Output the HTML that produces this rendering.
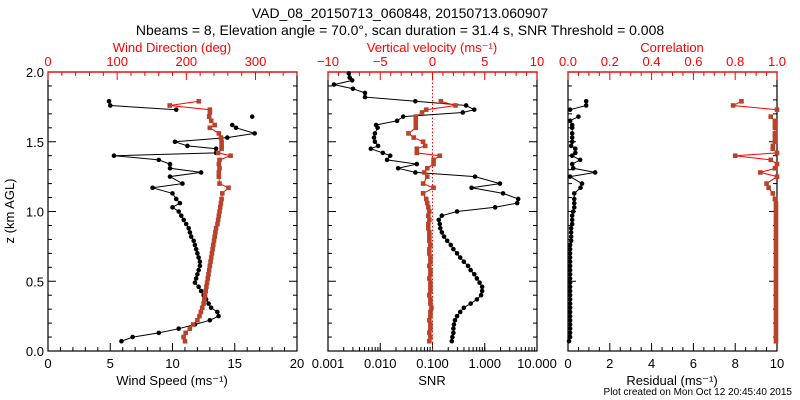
<!DOCTYPE html>
<html><head><meta charset="utf-8"><style>
html,body{margin:0;padding:0;background:#fff;}
svg{display:block;font-family:"Liberation Sans","DejaVu Sans",sans-serif;}
</style></head><body>
<svg id="chart" width="800" height="400" viewBox="0 0 800 400" xmlns="http://www.w3.org/2000/svg">
<text x="400" y="18" font-size="14" text-anchor="middle">VAD_08_20150713_060848, 20150713.060907</text>
<text x="400" y="35" font-size="14" text-anchor="middle">Nbeams = 8, Elevation angle = 70.0°, scan duration = 31.4 s, SNR Threshold = 0.008</text>
<text x="14" y="211" font-size="13" text-anchor="middle" transform="rotate(-90 14 211)">z (km AGL)</text>
<text x="792" y="395" font-size="10" text-anchor="end">Plot created on Mon Oct 12 20:45:40 2015</text>
<g id="g"></g>
</svg>
<script>
const zLevels=[0.07,0.10,0.13,0.16,0.19,0.22,0.25,0.28,0.31,0.34,0.37,0.40,0.43,0.46,0.49,0.52,0.55,0.58,0.61,0.64,0.67,0.70,0.73,0.76,0.79,0.82,0.85,0.88,0.91,0.94,0.97,1.00,1.03,1.06,
1.09,1.13,1.17,1.20,1.25,1.28,1.31,1.34,1.37,1.40,1.42,1.45,1.47,1.50,1.53,1.56,1.60,1.62,1.65,1.68,1.71,1.73,1.76,1.79,1.82,1.85,1.88,1.91,1.94,1.96,1.99];
const windSpeed=[5.9,6.8,8.9,10.5,11.8,13.0,13.7,13.6,13.1,12.9,12.7,12.5,12.3,12.1,11.8,11.9,12.0,12.1,12.2,12.2,12.1,12.0,11.9,11.8,11.7,11.5,11.4,11.3,11.1,10.9,10.7,10.5,10.0,10.6,
10.3,10.0,8.4,10.8,9.8,12.3,9.8,9.8,8.9,5.3,13.5,13.5,11.2,10.2,14.4,16.6,15.1,14.8,null,16.4,null,10.3,5.0,4.9,null,null,null,null,null,null,null];
const windDir=[198,196,199,205,210,216,219,221,223,225,226,227,228,229,230,231,232,233,234,235,236,237,238,239,240,241,242,243,245,246,247,248,249,250,
251,252,261,248,247,247,248,247,248,264,246,251,251,251,250,247,234,241,236,233,234,234,176,218,null,null,null,null,null,null,null];
const vertVel=[-0.3,-0.2,-0.3,-0.2,-0.2,-0.3,-0.2,-0.2,-0.1,-0.2,-0.2,-0.3,-0.2,-0.2,-0.2,-0.3,-0.2,-0.2,-0.3,-0.2,-0.2,-0.3,-0.3,-0.2,-0.3,-0.3,-0.3,-0.4,-0.4,-0.3,-0.4,-0.3,-0.4,-0.5,
-0.6,-0.9,0.1,-0.9,-0.5,-0.8,-0.5,0.1,0.1,0.7,-1.5,-1.5,-0.7,-0.9,-1.8,-2.3,-1.6,-1.6,-1.6,-1.6,-1.0,-0.6,2.2,0.8,null,null,null,null,null,null,null];
const snr=[0.234,0.24,0.251,0.251,0.257,0.269,0.295,0.339,0.398,0.537,0.708,0.851,0.891,0.891,0.794,0.708,0.631,0.537,0.479,0.398,0.339,0.295,0.251,0.224,0.191,0.166,0.151,0.141,0.138,0.132,0.151,0.295,1.58,4.17,
4.37,2.24,0.56,1.95,0.65,0.047,0.022,0.05,0.0135,0.0155,0.0112,0.0066,0.0091,0.0079,0.0076,0.0079,0.0089,0.0083,0.021,0.0275,0.38,0.63,0.44,0.047,0.0051,0.0051,0.003,0.0013,0.0029,0.0026,0.0025];
const residual=[0.05,0.1,0.1,0.1,0.1,0.1,0.1,0.1,0.1,0.1,0.1,0.1,0.1,0.1,0.1,0.1,0.1,0.1,0.1,0.1,0.1,0.1,0.1,0.1,0.15,0.15,0.15,0.15,0.2,0.2,0.2,0.25,0.3,0.3,
0.3,0.3,0.6,0.67,0.1,1.3,0.25,0.2,0.58,0.2,0.35,0.35,0.15,0.2,0.2,0.2,0.2,0.2,0.1,0.5,null,0.1,0.87,0.87,null,null,null,null,null,null,null];
const correlation=[0.995,0.995,0.995,0.995,0.995,0.995,0.995,0.995,0.995,0.995,0.995,0.995,0.995,0.995,0.995,0.995,0.995,0.995,0.995,0.995,0.995,0.995,0.995,0.995,0.995,0.995,0.995,0.995,0.995,0.995,0.995,0.995,0.995,0.995,
0.99,0.98,0.96,0.95,1.0,0.92,0.99,1.0,0.97,0.80,1.0,0.98,0.98,0.99,0.99,0.99,0.99,0.99,0.99,0.97,null,1.0,0.79,0.83,null,null,null,null,null,null,null];
const wsTicks=["0","5","10","15","20"], wdTicks=["0","100","200","300"], wTicks=["−10","−5","0","5","10"];
const snrTicks=["0.001","0.010","0.100","1.000","10.000"], corrTicks=["0.0","0.2","0.4","0.6","0.8","1.0"], resTicks=["0","2","4","6","8","10"];
const zTicks=["0.0","0.5","1.0","1.5","2.0"];

const NS="http://www.w3.org/2000/svg", G=document.getElementById('g');
const Y0=351,Y1=72; const yS=z=>Y0-(Y0-Y1)*z/2;
const RED="#ff0000", BR="#b8432a";
function el(t,a,p){const e=document.createElementNS(NS,t);for(const k in a)e.setAttribute(k,a[k]);(p||G).appendChild(e);return e;}
function txt(s,x,y,o){const e=el('text',Object.assign({x:x,y:y,'font-size':13,'text-anchor':'middle'},o||{}));e.textContent=s;return e;}
const panels=[{x0:48,x1:297},{x0:328,x1:537},{x0:568,x1:777}];
function frame(p,name){const r=el('rect',{x:p.x0,y:Y1,width:p.x1-p.x0,height:Y0-Y1,fill:'none',stroke:'#000','stroke-width':1.2});

// z ticks
for(let i=0;i<=20;i++){const y=yS(i*0.1),L=i%5==0?8:4;
el('line',{x1:p.x0,x2:p.x0+L,y1:y,y2:y,stroke:'#000'});el('line',{x1:p.x1,x2:p.x1-L,y1:y,y2:y,stroke:'#000'});}
}
function linTicks(p,min,max,minor,major,labels,top,color,nameTick){
const sx=v=>p.x0+(p.x1-p.x0)*(v-min)/(max-min);
for(let v=min;v<=max+1e-9;v+=minor){const isM=Math.abs(Math.round((v-min)/major)*major-(v-min))<1e-6;const L=isM?8:4;const x=sx(v);
if(top)el('line',{x1:x,x2:x,y1:Y1,y2:Y1+L,stroke:color});else el('line',{x1:x,x2:x,y1:Y0,y2:Y0-L,stroke:color});}
labels.forEach((s,i)=>{const v=min+i*major;if(v>max+1e-9)return;const t=txt(s,sx(v),top?Y1-6:Y0+17,{fill:color});
});
if(top)el('line',{x1:p.x0,x2:p.x1,y1:Y1,y2:Y1,stroke:color,'stroke-width':1.2});
return sx;}
function series(pts,color,mcolor,shape,name){
let d='',pen=false;pts.forEach(q=>{if(q==null){pen=false;return;}d+=(pen?'L':'M')+q[0].toFixed(1)+','+q[1].toFixed(1);pen=true;});
const path=el('path',{d:d,fill:'none',stroke:color,'stroke-width':1});

pts.forEach(q=>{if(!q)return;let m;if(shape=='c')m=el('circle',{cx:q[0],cy:q[1],r:2.3,fill:mcolor});
else m=el('rect',{x:q[0]-2.3,y:q[1]-2.3,width:4.6,height:4.6,fill:mcolor});
});}
function pts(vals,sx){return vals.map((v,i)=>v==null?null:[sx(v),yS(zLevels[i])]);}

// Panel 1
const p1=panels[0];frame(p1,'wind-panel');
zTicks.forEach((s,i)=>{const t=txt(s,p1.x0-4,yS(i*0.5)+5,{'text-anchor':'end'});});
const sWS=linTicks(p1,0,20,1,5,wsTicks,false,'#000','wind-speed-tick-label');
const sWD=linTicks(p1,0,360,20,100,wdTicks,true,RED,'wind-direction-tick-label');
txt('Wind Speed (ms⁻¹)',172,385);
txt('Wind Direction (deg)',172,52,{fill:RED});
series(pts(windSpeed,sWS),'#000','#000','c','wind-speed');
series(pts(windDir,sWD),RED,BR,'s','wind-direction');

// Panel 2
const p2=panels[1];frame(p2,'snr-velocity-panel');
const sW=linTicks(p2,-10,10,1,5,wTicks,true,RED,'vertical-velocity-tick-label');
const lsx=v=>p2.x0+(p2.x1-p2.x0)*(Math.log10(v)+3)/4;
for(let d=-3;d<1;d++)for(let k=1;k<=10;k++){const x=lsx(k*Math.pow(10,d));const L=k==10?8:4;el('line',{x1:x,x2:x,y1:Y0,y2:Y0-L,stroke:'#000'});}
snrTicks.forEach((s,i)=>{const t=txt(s,lsx(Math.pow(10,i-3)),Y0+17);});
txt('SNR',432,385);
txt('Vertical velocity (ms⁻¹)',432,52,{fill:RED});
const zl=el('line',{x1:sW(0),x2:sW(0),y1:Y1,y2:Y0,stroke:RED,'stroke-dasharray':'1.5,2'});

series(pts(snr,lsx),'#000','#000','c','snr');
series(pts(vertVel,sW),RED,BR,'s','vertical-velocity');

// Panel 3
const p3=panels[2];frame(p3,'residual-correlation-panel');
const sR=linTicks(p3,0,10,0.5,2,resTicks,false,'#000','residual-tick-label');
const sC=linTicks(p3,0,1,0.05,0.2,corrTicks,true,RED,'correlation-tick-label');
txt('Residual (ms⁻¹)',672,385);
txt('Correlation',672,52,{fill:RED});
series(pts(residual,sR),'#000','#000','c','residual');
series(pts(correlation,sC),RED,BR,'s','correlation');
</script>
</body></html>
